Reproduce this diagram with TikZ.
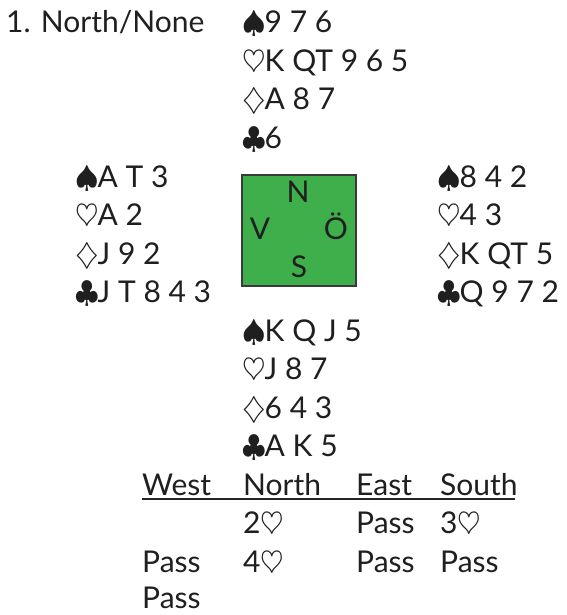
\documentclass[tikz,border=0pt]{standalone}
\usepackage{fontspec}
\setmainfont{Lato}
% suit symbols, enlarged to match the cap height of the text
\newcommand{\suitsym}[1]{\scalebox{1.22}{$#1$}\kern-1bp}
\newcommand{\Sp}{\suitsym{\spadesuit}}
\newcommand{\Hx}{\suitsym{\heartsuit}}
\newcommand{\Dx}{\suitsym{\diamondsuit}}
\newcommand{\Cl}{\suitsym{\clubsuit}}
\definecolor{tablegreen}{HTML}{3EAF4B}
\definecolor{edgegray}{HTML}{3A3A3A}
\begin{document}
\fontsize{30bp}{38.5bp}\selectfont
\begin{tikzpicture}[x=1bp,y=-1bp,
  txt/.style={anchor=base west,inner sep=0pt,text=black!88},
  seat/.style={anchor=base,inner sep=0pt,text=black!88},
  table/.style={draw=edgegray,line width=1.2bp,fill=tablegreen}]
\useasboundingbox (0,0) rectangle (567,615);

% deal heading
\node[txt] (title) at (6,33) {1. North/None};

% North hand
\node[txt] (n1) at (242,33)  {\Sp9 7 6};
\node[txt] (n2) at (242,72)  {\Hx K QT 9 6 5};
\node[txt] (n3) at (242,110) {\Dx A 8 7};
\node[txt] (n4) at (242,149) {\Cl 6};

% West hand
\node[txt] (w1) at (75,187) {\Sp A T 3};
\node[txt] (w2) at (75,225) {\Hx A 2};
\node[txt] (w3) at (75,264) {\Dx J 9 2};
\node[txt] (w4) at (75,302) {\Cl J T 8 4 3};

% East hand
\node[txt] (e1) at (437,187) {\Sp8 4 2};
\node[txt] (e2) at (437,225) {\Hx 4 3};
\node[txt] (e3) at (437,264) {\Dx K QT 5};
\node[txt] (e4) at (437,302) {\Cl Q 9 7 2};

% South hand
\node[txt] (s1) at (242,341) {\Sp K Q J 5};
\node[txt] (s2) at (242,379) {\Hx J 8 7};
\node[txt] (s3) at (242,418) {\Dx 6 4 3};
\node[txt] (s4) at (242,456) {\Cl A K 5};

% compass table
\path[table] (242,175) rectangle (356,286);
\node[seat] (tn) at (298,202) {N};
\node[seat] (tw) at (260,239) {V};
\node[seat] (te) at (336,239) {Ö};
\node[seat] (ts) at (299,277) {S};

% bidding
\node[txt] (hw) at (142,495) {West};
\node[txt] (hn) at (243,495) {North};
\node[txt] (he) at (356,495) {East};
\node[txt] (hs) at (440,495) {South};
\coordinate (ulA) at (142,499);
\coordinate (ulB) at (515,499);
\draw[line width=1.4bp,black!85] (ulA) -- (ulB);

\node[txt] (b1n) at (243,533) {2\Hx};
\node[txt] (b1e) at (356,533) {Pass};
\node[txt] (b1s) at (440,533) {3\Hx};
\node[txt] (b2w) at (142,572) {Pass};
\node[txt] (b2n) at (243,572) {4\Hx};
\node[txt] (b2e) at (356,572) {Pass};
\node[txt] (b2s) at (440,572) {Pass};
\node[txt] (b3w) at (142,608) {Pass};
\end{tikzpicture}
\end{document}
